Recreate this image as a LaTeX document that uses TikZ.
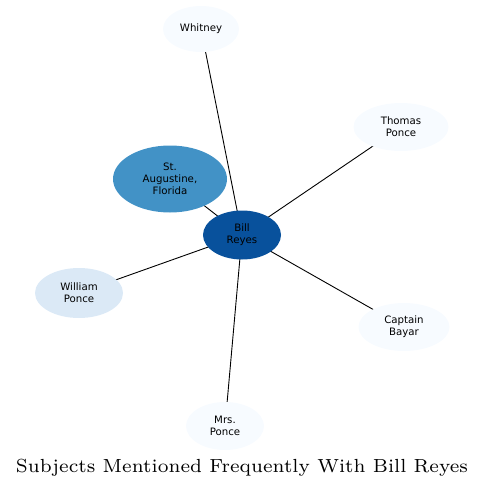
\documentclass[tikz,border=0pt]{standalone}
\usepackage{fontspec}
\newfontfamily\nodefont{DejaVu Sans}
\usetikzlibrary{shapes.geometric,backgrounds}
\definecolor{cdark}{HTML}{08519C}
\definecolor{cmid}{HTML}{4292C6}
\definecolor{clight}{HTML}{DBE9F6}
\definecolor{cpale}{HTML}{F7FBFF}
\tikzset{
  ent/.style={ellipse, inner sep=0pt, text=black, align=center,
    font=\nodefont\fontsize{10.2}{12}\selectfont},
  link/.style={draw=black, line width=0.9pt}
}
\begin{document}
\begin{tikzpicture}[x=1pt,y=-1pt]
\useasboundingbox (0,0) rectangle (485,487);
\node[ent, fill=cdark, minimum width=78, minimum height=49] (bill) at (242,235) {Bill\\Reyes};
\node[ent, fill=cpale, minimum width=76, minimum height=46] (whitney) at (201,29) {Whitney};
\node[ent, fill=cpale, minimum width=95, minimum height=48] (thomas) at (401,127) {Thomas\\Ponce};
\node[ent, fill=cmid, minimum width=114, minimum height=67] (staug) at (170,179) {St.\\Augustine,\\Florida};
\node[ent, fill=clight, minimum width=88, minimum height=50] (william) at (79,293) {William\\Ponce};
\node[ent, fill=cpale, minimum width=91, minimum height=48] (captain) at (404,327) {Captain\\Bayar};
\node[ent, fill=cpale, minimum width=78, minimum height=48] (mrs) at (225,426) {Mrs.\\Ponce};
\begin{pgfonlayer}{background}
\foreach \n in {whitney,thomas,staug,william,captain,mrs}
  \draw[link] (bill.center) -- (\n.center);
\end{pgfonlayer}
\node[anchor=base, inner sep=0pt] (title) at (242,472) {\resizebox{452pt}{!}{\fontsize{7}{8}\selectfont Subjects Mentioned Frequently With Bill Reyes}};
\end{tikzpicture}
\end{document}
